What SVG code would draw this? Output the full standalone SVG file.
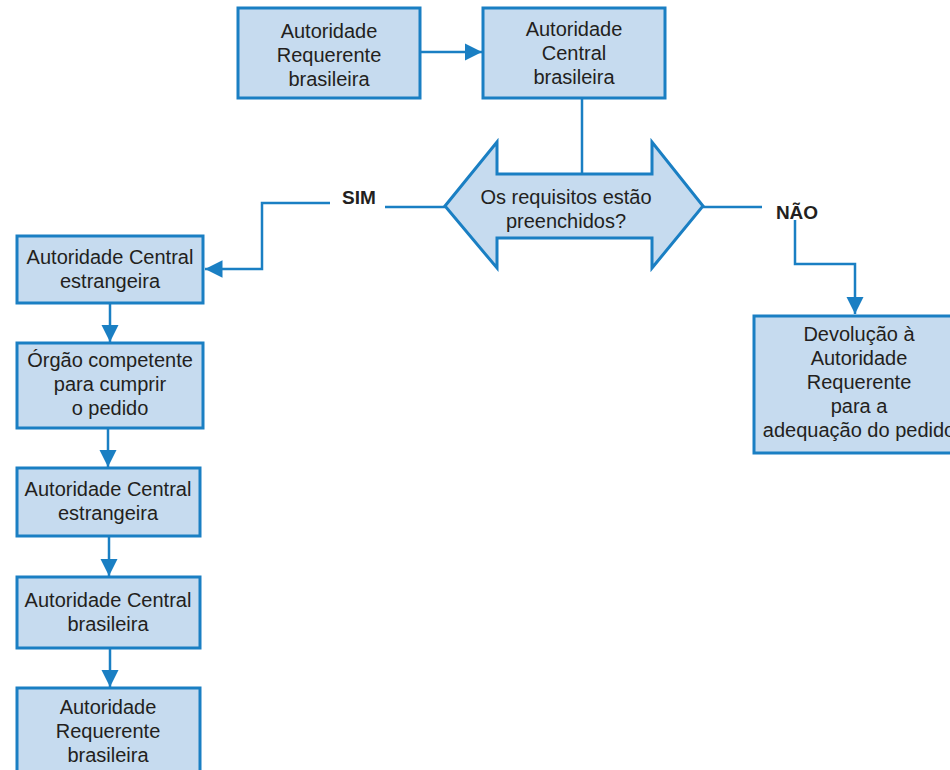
<svg xmlns="http://www.w3.org/2000/svg" width="950" height="770" viewBox="0 0 950 770">
<defs>
<style>
.box{fill:#c6dbef;stroke:#1a7fc3;stroke-width:3}
.t{font-family:"Liberation Sans",Arial,sans-serif;font-size:20px;fill:#231f20;text-anchor:middle}
.b{font-family:"Liberation Sans",Arial,sans-serif;font-size:19px;font-weight:bold;fill:#231f20;text-anchor:middle}
.ln{fill:none;stroke:#1a7fc3;stroke-width:2.5}
</style>
<marker id="ah" viewBox="0 0 10 10" refX="10" refY="5" markerWidth="7" markerHeight="7" markerUnits="strokeWidth" orient="auto">
<path d="M0,0 L10,5 L0,10 Z" fill="#1a7fc3"/>
</marker>
</defs>
<rect width="950" height="770" fill="#fff"/>
<g id="connectors">
<line class="ln" x1="420" y1="52" x2="482" y2="52" marker-end="url(#ah)"/>
<line class="ln" x1="582" y1="98" x2="582" y2="174"/>
<line class="ln" x1="385" y1="207" x2="445" y2="207"/>
<polyline class="ln" points="330,203 262,203 262,269 205,269" marker-end="url(#ah)"/>
<line class="ln" x1="703" y1="207" x2="762" y2="207"/>
<polyline class="ln" points="795,220 795,264 855,264 855,314" marker-end="url(#ah)"/>
<line class="ln" x1="110" y1="303" x2="110" y2="342" marker-end="url(#ah)"/>
<line class="ln" x1="108" y1="428" x2="108" y2="467" marker-end="url(#ah)"/>
<line class="ln" x1="109" y1="536" x2="109" y2="576" marker-end="url(#ah)"/>
<line class="ln" x1="110" y1="648" x2="110" y2="687" marker-end="url(#ah)"/>
</g>
<g id="n1"><rect class="box" x="238" y="8" width="182" height="90"/>
<text class="t" x="329" y="38">Autoridade</text><text class="t" x="329" y="62">Requerente</text><text class="t" x="329" y="86">brasileira</text></g>
<g id="n2"><rect class="box" x="483" y="8" width="182" height="90"/>
<text class="t" x="574" y="36">Autoridade</text><text class="t" x="574" y="60">Central</text><text class="t" x="574" y="84">brasileira</text></g>
<g id="decision"><polygon class="box" points="445,206 497,142 497,174 652,174 652,142 703,206 652,268 652,238 497,238 497,268"/>
<text class="t" x="566" y="204">Os requisitos estão</text><text class="t" x="566" y="228">preenchidos?</text></g>
<g id="sim"><text class="b" x="359" y="204">SIM</text></g>
<g id="nao"><text class="b" x="797" y="219">NÃO</text></g>
<g id="nA"><rect class="box" x="17" y="236" width="186" height="67"/>
<text class="t" x="110" y="264">Autoridade Central</text><text class="t" x="110" y="288">estrangeira</text></g>
<g id="nB"><rect class="box" x="17" y="343" width="186" height="85"/>
<text class="t" x="110" y="367">Órgão competente</text><text class="t" x="110" y="391">para cumprir</text><text class="t" x="110" y="415">o pedido</text></g>
<g id="nC"><rect class="box" x="17" y="468" width="183" height="68"/>
<text class="t" x="108" y="496">Autoridade Central</text><text class="t" x="108" y="520">estrangeira</text></g>
<g id="nD"><rect class="box" x="17" y="577" width="183" height="71"/>
<text class="t" x="108" y="607">Autoridade Central</text><text class="t" x="108" y="631">brasileira</text></g>
<g id="nE"><rect class="box" x="17" y="688" width="183" height="90"/>
<text class="t" x="108" y="714">Autoridade</text><text class="t" x="108" y="738">Requerente</text><text class="t" x="108" y="762">brasileira</text></g>
<g id="nR"><rect class="box" x="754" y="316" width="212" height="137"/>
<text class="t" x="859" y="341">Devolução à</text><text class="t" x="859" y="365">Autoridade</text><text class="t" x="859" y="389">Requerente</text><text class="t" x="859" y="413">para a</text><text class="t" x="859" y="437">adequação do pedido</text></g>
</svg>
